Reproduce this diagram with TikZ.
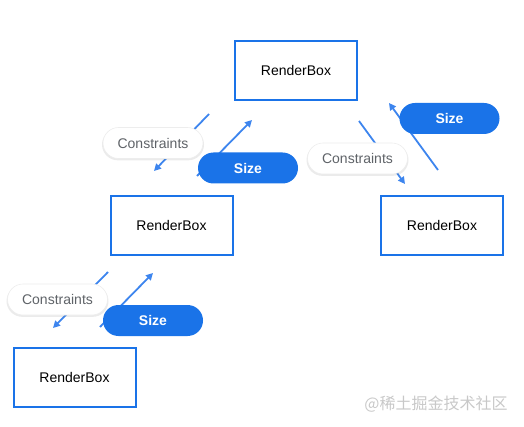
\documentclass[tikz,border=0pt]{standalone}
\usepackage{fontspec}
\setmainfont{Liberation Sans}
\newfontfamily\cjk{Noto Sans CJK SC}
\usetikzlibrary{arrows.meta,shadows}
\definecolor{boxblue}{HTML}{1A73E8}
\definecolor{arrowblue}{HTML}{3D85EE}
\definecolor{greytext}{HTML}{5F6368}
\definecolor{marktext}{HTML}{C8C8C8}

\begin{document}
\begin{tikzpicture}[x=1pt,y=-1pt,
        box/.style={draw=boxblue,line width=2pt,minimum width=122pt,minimum height=59pt,
            font=\fontsize{14}{16}\selectfont},
        pill/.style={rounded corners=15.5pt,minimum width=100pt,minimum height=31pt,
            font=\fontsize{14}{16}\selectfont},
        cpill/.style={pill,fill=white,draw=black!7,line width=0.6pt,text=greytext,
            drop shadow={opacity=0.16,shadow xshift=0pt,shadow yshift=-1.5pt,shadow scale=1.02}},
        spill/.style={pill,fill=boxblue,text=white,font=\fontsize{14}{16}\selectfont\bfseries},
        flow/.style={-{Triangle[length=7pt,width=7pt]},line width=1.8pt,draw=arrowblue}]
        \useasboundingbox (0,0) rectangle (524,427);

        % Render boxes
        \node[box] (root) at (296,70.5) {RenderBox};
        \node[box] (mid) at (171.5,225.5) {RenderBox};
        \node[box] (right) at (442,225.5) {RenderBox};
        \node[box] (leaf) at (74.5,377) {RenderBox};

        % Arrow ends
        \coordinate (c1s) at (209,114); \coordinate (c1e) at (154,171);
        \coordinate (s1s) at (197,176); \coordinate (s1e) at (252,120);
        \coordinate (c2s) at (359,121); \coordinate (c2e) at (405,184);
        \coordinate (s2s) at (438,170); \coordinate (s2e) at (389,103);
        \coordinate (c3s) at (108,272); \coordinate (c3e) at (53,328);
        \coordinate (s3s) at (100,327); \coordinate (s3e) at (153,273);

        % Constraints go down, sizes go up
        \draw[flow] (c1s) -- (c1e);
        \draw[flow] (s1s) -- (s1e);
        \draw[flow] (c2s) -- (c2e);
        \draw[flow] (s2s) -- (s2e);
        \draw[flow] (c3s) -- (c3e);
        \draw[flow] (s3s) -- (s3e);

        % Labels
        \node[cpill] (cons1) at (153,143) {Constraints};
        \node[spill] (size1) at (248,168) {Size};
        \node[cpill] (cons2) at (357.5,158.5) {Constraints};
        \node[spill] (size2) at (449.5,118.5) {Size};
        \node[cpill] (cons3) at (57.5,299.5) {Constraints};
        \node[spill] (size3) at (153,320.5) {Size};

        % Watermark
        \node[text=marktext,font=\cjk\fontsize{16}{18}\selectfont] (mark) at (436,404) {@稀土掘金技术社区};
    \end{tikzpicture}
\end{document}
